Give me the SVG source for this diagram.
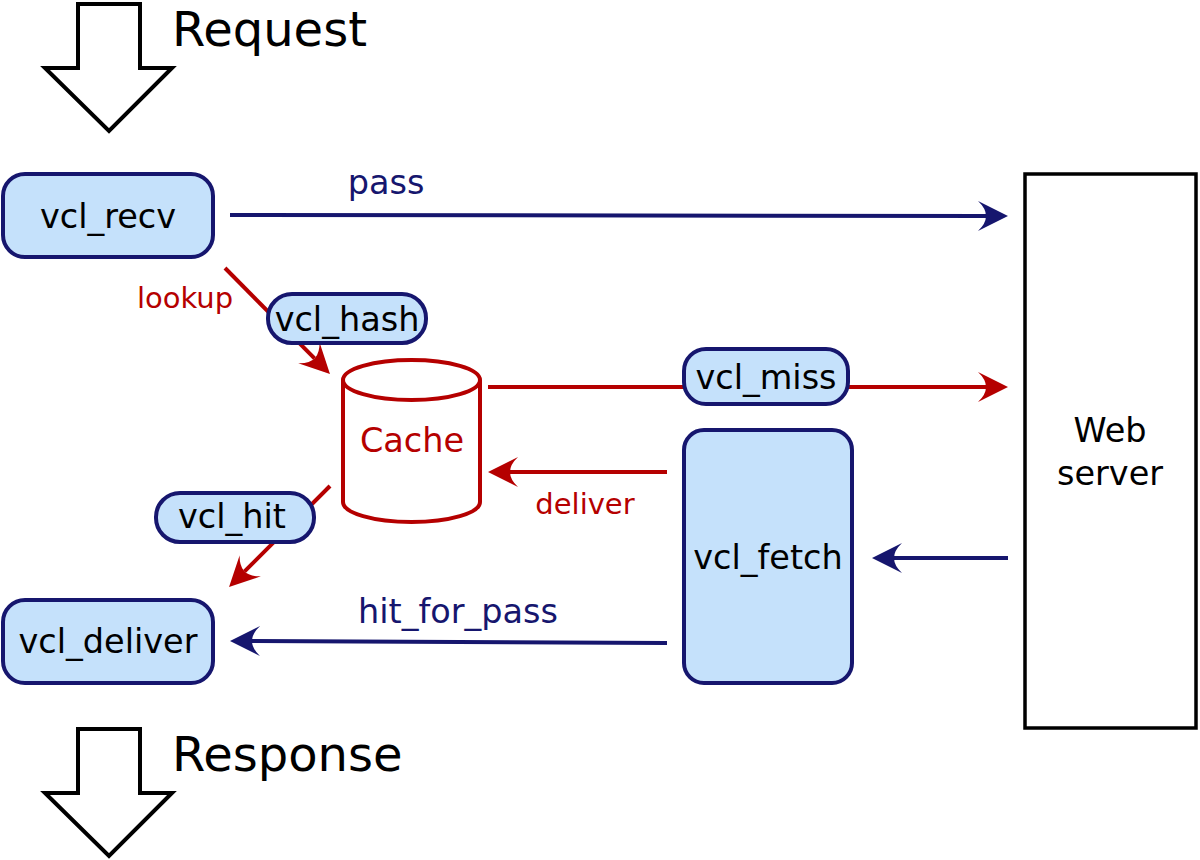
<svg xmlns="http://www.w3.org/2000/svg" width="1200" height="860" viewBox="0 0 1200 860">
<style>
text{font-family:"DejaVu Sans","Liberation Sans",sans-serif}
.box{fill:#c5e1fb;stroke:#16166e;stroke-width:4}
.lbl{font-size:33.5px;fill:#000;text-anchor:middle}
.big{font-size:48px;fill:#000}
.small{font-size:29px;fill:#b50000;text-anchor:middle}
.navytxt{font-size:33.5px;fill:#16166e;text-anchor:middle}
.navy{stroke:#16166e;stroke-width:4;fill:none}
.red{stroke:#b50000;stroke-width:4;fill:none}
.bigarrow{fill:#fff;stroke:#000;stroke-width:4;stroke-linejoin:miter}
</style>
<defs>
<marker id="ahN" markerUnits="userSpaceOnUse" markerWidth="60" markerHeight="60" refX="0" refY="0" orient="auto" overflow="visible">
<path d="M22,0 L-8,-15 Q8,0 -8,15 Z" fill="#16166e"/>
</marker>
<marker id="ahR" markerUnits="userSpaceOnUse" markerWidth="60" markerHeight="60" refX="0" refY="0" orient="auto" overflow="visible">
<path d="M22,0 L-8,-15 Q8,0 -8,15 Z" fill="#b50000"/>
</marker>
</defs>
<rect width="1200" height="860" fill="#fff"/>

<g id="request">
<polygon class="bigarrow" points="78,4 140,4 140,68 172,68 109,131 45,68 78,68"/>
<text class="big" x="172" y="46">Request</text>
</g>
<g id="response">
<polygon class="bigarrow" points="78,729 140,729 140,793 172,793 109,856 45,793 78,793"/>
<text class="big" x="172" y="771">Response</text>
</g>

<g id="connectors">
<path class="navy" d="M230,215 L986,216" marker-end="url(#ahN)"/>
<text class="navytxt" x="386" y="194">pass</text>
<path class="red" d="M225,268 L314.5,358.4" marker-end="url(#ahR)"/>
<text class="small" x="185" y="308">lookup</text>
<path class="red" d="M488,387 L986,387" marker-end="url(#ahR)"/>
<path class="red" d="M667,472 L510,472" marker-end="url(#ahR)"/>
<text class="small" x="585" y="514">deliver</text>
<path class="navy" d="M1008,558 L894,558" marker-end="url(#ahN)"/>
<path class="red" d="M330,486 L244.6,571.4" marker-end="url(#ahR)"/>
<path class="navy" d="M667,643 L252,641" marker-end="url(#ahN)"/>
<text class="navytxt" x="458" y="623">hit_for_pass</text>
</g>

<g id="web_server">
<rect x="1025" y="174" width="171" height="554" fill="#fff" stroke="#000" stroke-width="3.5"/>
<text class="lbl" x="1110" y="442">Web</text>
<text class="lbl" x="1110" y="485">server</text>
</g>

<g id="vcl_recv">
<rect class="box" x="3" y="174" width="210" height="83" rx="22"/>
<text class="lbl" x="108" y="228">vcl_recv</text>
</g>

<g id="vcl_hash">
<rect class="box" x="268" y="294" width="158" height="49" rx="24"/>
<text class="lbl" x="347" y="331">vcl_hash</text>
</g>

<g id="cache">
<path d="M343,380 L343,502 A68.5,20 0 0 0 480,502 L480,380" fill="#fff" stroke="#b50000" stroke-width="4"/>
<ellipse cx="411.5" cy="380" rx="68.5" ry="20" fill="#fff" stroke="#b50000" stroke-width="4"/>
<text x="412" y="452" font-size="33.5" fill="#b50000" text-anchor="middle">Cache</text>
</g>

<g id="vcl_miss">
<rect class="box" x="684" y="349" width="164" height="55" rx="22"/>
<text class="lbl" x="766" y="389">vcl_miss</text>
</g>

<g id="vcl_fetch">
<rect class="box" x="684" y="430" width="168" height="253" rx="20"/>
<text class="lbl" x="768" y="569">vcl_fetch</text>
</g>

<g id="vcl_hit">
<rect class="box" x="156" y="493" width="158" height="49" rx="24"/>
<text class="lbl" x="232" y="528">vcl_hit</text>
</g>

<g id="vcl_deliver">
<rect class="box" x="3" y="600" width="210" height="83" rx="22"/>
<text class="lbl" x="108" y="653">vcl_deliver</text>
</g>
</svg>
